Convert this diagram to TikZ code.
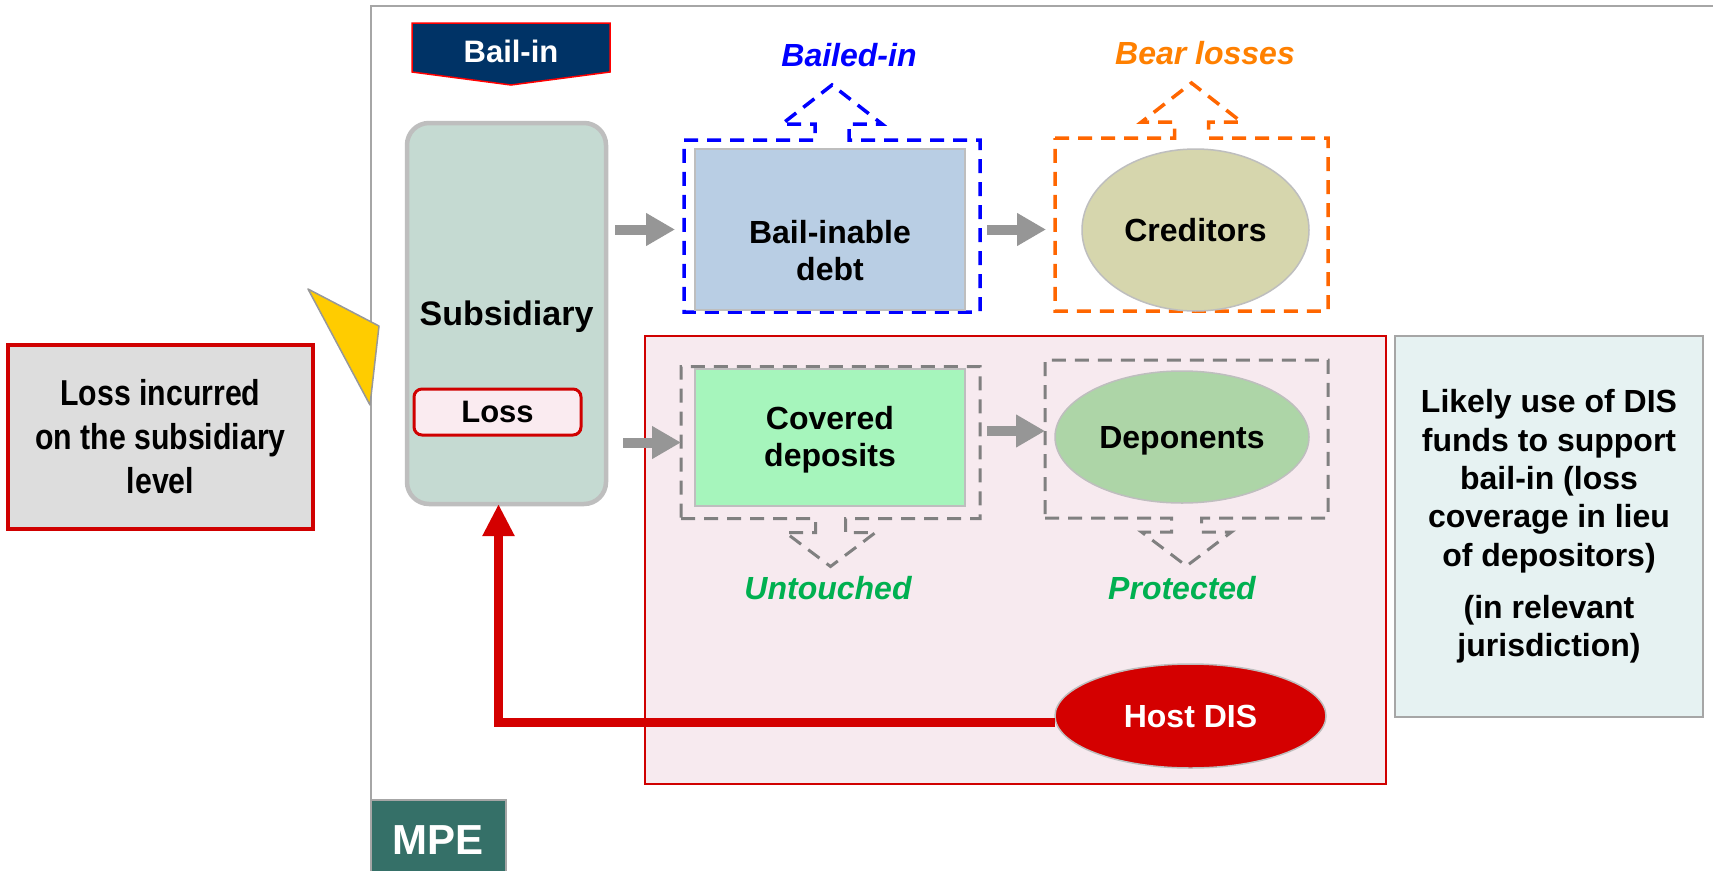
\documentclass[tikz,border=0pt]{standalone}
\usepackage{fontspec}
\setmainfont{Liberation Sans}
\newfontfamily\narrowsans[FakeStretch=0.84]{Liberation Sans}
\usetikzlibrary{arrows.meta,calc,shapes.geometric}

\definecolor{navyfill}{RGB}{0,51,102}
\definecolor{brightred}{RGB}{255,0,0}
\definecolor{darkred}{RGB}{208,0,0}
\definecolor{hostred}{RGB}{212,0,0}
\definecolor{subfill}{RGB}{197,218,210}
\definecolor{subborder}{RGB}{190,190,190}
\definecolor{pinkfill}{RGB}{247,234,239}
\definecolor{lossfill}{RGB}{250,235,240}
\definecolor{debtfill}{RGB}{185,206,228}
\definecolor{credfill}{RGB}{214,214,173}
\definecolor{covfill}{RGB}{166,245,188}
\definecolor{depfill}{RGB}{173,213,167}
\definecolor{notefill}{RGB}{230,242,242}
\definecolor{leftfill}{RGB}{221,221,221}
\definecolor{mpefill}{RGB}{53,112,104}
\definecolor{arrowgray}{RGB}{150,150,150}
\definecolor{dashgray}{RGB}{128,128,128}
\definecolor{edgegray}{RGB}{190,190,190}
\definecolor{framegray}{RGB}{166,166,166}
\definecolor{dashorange}{RGB}{255,102,0}
\definecolor{textorange}{RGB}{255,128,0}
\definecolor{dashblue}{RGB}{0,0,255}
\definecolor{textgreen}{RGB}{0,176,80}
\definecolor{yellowfill}{RGB}{255,204,0}

\newcommand{\fs}[2]{\fontsize{#1}{#2}\selectfont}

% dashed frame around a node with a hollow arrow pointing up out of its top edge
\newcommand{\calloutup}[2]{%
  \draw[#2] (#1.north west) -- ($(#1.north)+(-17,0)$) -- ++(0,-16)
    -- ($(#1.north)+(-50,-16)$) -- ($(#1.north)+(0,-55)$)
    -- ($(#1.north)+(50,-16)$) -- ($(#1.north)+(17,-16)$)
    -- ($(#1.north)+(17,0)$) -- (#1.north east) -- (#1.south east)
    -- (#1.south west) -- cycle;}
% same, with the arrow pointing down out of the bottom edge
\newcommand{\calloutdown}[2]{%
  \draw[#2] (#1.south west) -- ($(#1.south)+(-15,0)$) -- ++(0,14)
    -- ($(#1.south)+(-45,14)$) -- ($(#1.south)+(0,48)$)
    -- ($(#1.south)+(45,14)$) -- ($(#1.south)+(15,14)$)
    -- ($(#1.south)+(15,0)$) -- (#1.south east) -- (#1.north east)
    -- (#1.north west) -- cycle;}

\tikzset{
  every node/.style={inner sep=0pt, outer sep=0pt},
  framest/.style={draw=framegray, line width=2pt},
  mpest/.style={draw=framegray, line width=1.5pt, fill=mpefill, text=white, font=\bfseries\fs{42}{48}},
  regionst/.style={draw=darkred, line width=1.8pt, fill=pinkfill},
  leftboxst/.style={draw=darkred, line width=3.5pt, fill=leftfill, align=center, font=\narrowsans\bfseries\fs{36}{44}},
  trianglest/.style={draw=edgegray!80!black, line width=1.5pt, fill=yellowfill, line join=round},
  bannerst/.style={draw=brightred, line width=1.5pt, fill=navyfill},
  subst/.style={draw=subborder, line width=4.5pt, fill=subfill, rounded corners=22pt, font=\bfseries\fs{34}{40}},
  lossst/.style={draw=darkred, line width=3pt, fill=lossfill, rounded corners=8pt, font=\bfseries\fs{31}{36}},
  boxtext/.style={align=center, font=\bfseries\fs{32}{37}},
  plainrect/.style={draw=edgegray, line width=1.5pt, boxtext},
  plainell/.style={ellipse, draw=edgegray, line width=1.5pt, boxtext},
  hollow/.style={draw=none},
  bluedash/.style={draw=dashblue, line width=3.5pt, dash pattern=on 14pt off 9pt, line join=miter},
  orangedash/.style={draw=dashorange, line width=3.5pt, dash pattern=on 14pt off 9pt, line join=miter},
  graydash/.style={draw=dashgray, line width=3pt, dash pattern=on 14pt off 9pt, line join=miter},
  grayarr/.style={draw=arrowgray, line width=10pt, -{Triangle[length=29pt,width=31pt]}},
  redarr/.style={draw=hostred, line width=9pt, -{Triangle[length=32pt,width=30pt]}},
  tagtext/.style={font=\bfseries\itshape\fs{32}{37}},
  notest/.style={draw=framegray, line width=2pt, fill=notefill, align=center, font=\bfseries\fs{32}{38.3}},
}

\begin{document}
\begin{tikzpicture}[x=1pt, y=-1pt]
\clip (0,0) rectangle (1713,870);
\fill[white] (0,0) rectangle (1713,870);

% MPE frame
\node[mpest, minimum width=135pt, minimum height=80pt] (mpe) at (438.5,840) {MPE};
\coordinate (frametl) at (371,5.5);
\coordinate (frametr) at (1725,5.5);
\draw[framest] (mpe.north west) -- (frametl) -- (frametr);

% host jurisdiction region
\node[regionst, minimum width=741pt, minimum height=448pt] (region) at (1015.5,560) {};

% loss description on the left with its pointer
\node[leftboxst, minimum width=305pt, minimum height=184pt] (lossinc) at (160.5,437)
  {Loss incurred\\on the subsidiary\\level};
\draw[trianglest] (308,289) -- (379,326) -- (370,405) -- cycle;

% Bail-in banner
\node[minimum width=198pt, minimum height=49pt] (bailin) at (511,47.5) {};
\draw[bannerst] (bailin.north west) -- (bailin.north east) -- (bailin.south east)
  -- ($(bailin.south)+(0,13)$) -- (bailin.south west) -- cycle;
\node[text=white, font=\bfseries\fs{31}{36}] (bailintext) at ($(bailin)+(0,4)$) {Bail-in};

% subsidiary
\node[subst, minimum width=199pt, minimum height=381pt, text depth=0pt] (sub) at (506.5,313.5) {Subsidiary};
\node[lossst, minimum width=167pt, minimum height=46pt] (loss) at (497.5,412) {Loss};

% bail-inable debt and creditors
\node[hollow, minimum width=296pt, minimum height=172pt] (bluebox) at (832,226) {};
\calloutup{bluebox}{bluedash}
\node[plainrect, fill=debtfill, minimum width=270pt, minimum height=161pt] (debt) at (830,229.5) {};
\node[boxtext] (debttext) at ($(debt)+(0,21)$) {Bail-inable\\debt};

\node[hollow, minimum width=273pt, minimum height=173pt] (orbox) at (1191.5,224.5) {};
\calloutup{orbox}{orangedash}
\node[plainell, fill=credfill, minimum width=227pt, minimum height=162pt] (cred) at (1195.5,230) {Creditors};

% covered deposits and deponents
\node[hollow, minimum width=299pt, minimum height=152pt] (covbox) at (830.5,442.5) {};
\calloutdown{covbox}{graydash}
\node[plainrect, fill=covfill, minimum width=270pt, minimum height=137pt] (cov) at (830,437.5) {};
\node[boxtext] (covtext) at ($(cov)+(0,2)$) {Covered\\deposits};

\node[hollow, minimum width=283pt, minimum height=158pt] (depbox) at (1186.5,439) {};
\calloutdown{depbox}{graydash}
\node[plainell, fill=depfill, minimum width=254pt, minimum height=132pt, text depth=0pt] (dep) at (1182,437) {Deponents};

% flow arrows
\draw[grayarr, shorten <=9pt, shorten >=9pt] (sub.east |- debt.center) -- (bluebox.west |- debt.center);
\draw[grayarr, shorten <=7pt, shorten >=9pt] (bluebox.east |- debt.center) -- (orbox.west |- debt.center);
\draw[grayarr, shorten <=17pt] (sub.east |- covbox.center) -- (covbox.west);
\draw[grayarr, shorten <=7pt] ($(covbox.east |- dep.center)+(0,-6)$) -- ($(depbox.west |- dep.center)+(0,-6)$);

% outcome labels
\node[tagtext, text=dashblue] (bailedin) at (849,55) {Bailed-in};
\node[tagtext, text=textorange] (bearloss) at (1205,53) {Bear losses};
\node[tagtext, text=textgreen] (untouched) at (828,588) {Untouched};
\node[tagtext, text=textgreen] (protected) at (1182,588) {Protected};

% host deposit insurance system and its support
\node[ellipse, draw=edgegray, line width=1.5pt, fill=hostred, text=white, font=\bfseries\fs{32}{37},
  minimum width=271pt, minimum height=104pt] (host) at (1190.5,716) {Host DIS};
\draw[redarr] ([yshift=-6pt]host.west) -| ([xshift=-8pt]sub.south);

% note box
\node[notest, minimum width=308pt, minimum height=381pt] (note) at (1549,526.5)
  {Likely use of DIS\\funds to support\\bail-in (loss\\coverage in lieu\\of depositors)\\[14pt](in relevant\\jurisdiction)};
\end{tikzpicture}
\end{document}
